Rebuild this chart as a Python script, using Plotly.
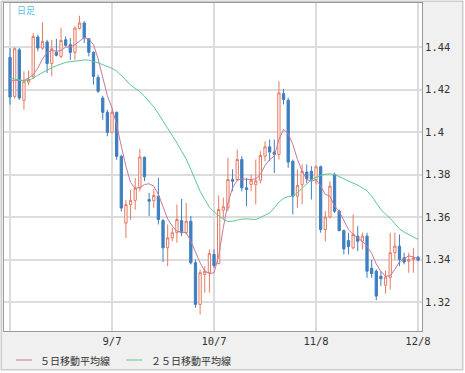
import plotly.graph_objects as go

# ---- data ----
opens = [1.4351, 1.4168, 1.4387, 1.4149, 1.4235, 1.4262, 1.4447, 1.4395, 1.4424, 1.4322,
         1.4375, 1.4356, 1.4434, 1.4411, 1.4375, 1.4487, 1.4513, 1.4439, 1.4375, 1.4257,
         1.4160, 1.4093, 1.3999, 1.4093, 1.3886, 1.3572, 1.3659, 1.3679, 1.3737, 1.3882,
         1.3683, 1.3678, 1.3699, 1.3584, 1.3456, 1.3503, 1.3527, 1.3584, 1.3527, 1.3581,
         1.3386, 1.3190, 1.3331, 1.3339, 1.3425, 1.3382, 1.3633, 1.3644, 1.3777, 1.3777,
         1.3871, 1.3738, 1.3754, 1.3754, 1.3774, 1.3887, 1.3931, 1.3906, 1.3895, 1.4181,
         1.4150, 1.3863, 1.3699, 1.3754, 1.3812, 1.3816, 1.3777, 1.3837, 1.3542, 1.3601,
         1.3801, 1.3628, 1.3537, 1.3490, 1.3456, 1.3511, 1.3487, 1.3511, 1.3360, 1.3346,
         1.3322, 1.3280, 1.3317, 1.3433, 1.3464, 1.3409, 1.3393, 1.3401, 1.3412]
highs = [1.4395, 1.4398, 1.4395, 1.4286, 1.4290, 1.4465, 1.4458, 1.4516, 1.4434, 1.4434,
         1.4438, 1.4489, 1.4450, 1.4442, 1.4497, 1.4547, 1.4521, 1.4442, 1.4380, 1.4270,
         1.4171, 1.4105, 1.4105, 1.4097, 1.3894, 1.3682, 1.3729, 1.3784, 1.3920, 1.3885,
         1.3714, 1.3733, 1.3785, 1.3592, 1.3566, 1.3550, 1.3660, 1.3686, 1.3667, 1.3605,
         1.3401, 1.3354, 1.3370, 1.3448, 1.3448, 1.3702, 1.3691, 1.3879, 1.3825, 1.3918,
         1.3887, 1.3785, 1.3800, 1.3871, 1.3910, 1.3957, 1.3965, 1.3965, 1.4239, 1.4203,
         1.4161, 1.3871, 1.3824, 1.3848, 1.3848, 1.3840, 1.3843, 1.3843, 1.3628, 1.3769,
         1.3809, 1.3636, 1.3542, 1.3527, 1.3613, 1.3558, 1.3527, 1.3527, 1.3400, 1.3355,
         1.3346, 1.3350, 1.3527, 1.3527, 1.3519, 1.3433, 1.3433, 1.3456, 1.3417]
lows = [1.4129, 1.4158, 1.4152, 1.4105, 1.4220, 1.4250, 1.4380, 1.4387, 1.4278, 1.4262,
        1.4356, 1.4348, 1.4403, 1.4340, 1.4340, 1.4482, 1.4419, 1.4356, 1.4223, 1.4184,
        1.4058, 1.3980, 1.3996, 1.3870, 1.3627, 1.3502, 1.3588, 1.3635, 1.3721, 1.3770,
        1.3605, 1.3644, 1.3566, 1.3389, 1.3370, 1.3487, 1.3480, 1.3511, 1.3519, 1.3378,
        1.3174, 1.3143, 1.3245, 1.3245, 1.3362, 1.3378, 1.3592, 1.3628, 1.3722, 1.3769,
        1.3722, 1.3652, 1.3722, 1.3660, 1.3759, 1.3863, 1.3863, 1.3808, 1.3871, 1.4130,
        1.3832, 1.3613, 1.3644, 1.3660, 1.3761, 1.3683, 1.3754, 1.3527, 1.3486, 1.3594,
        1.3620, 1.3534, 1.3425, 1.3425, 1.3448, 1.3440, 1.3448, 1.3315, 1.3315, 1.3210,
        1.3276, 1.3240, 1.3260, 1.3401, 1.3370, 1.3378, 1.3339, 1.3339, 1.3393]
closes = [1.4165, 1.4392, 1.4160, 1.4239, 1.4247, 1.4450, 1.4395, 1.4427, 1.4322, 1.4392,
          1.4361, 1.4431, 1.4408, 1.4375, 1.4489, 1.4513, 1.4442, 1.4375, 1.4262, 1.4192,
          1.4093, 1.3999, 1.4093, 1.3886, 1.3643, 1.3659, 1.3679, 1.3737, 1.3883, 1.3790,
          1.3675, 1.3702, 1.3589, 1.3456, 1.3503, 1.3527, 1.3589, 1.3527, 1.3581, 1.3386,
          1.3190, 1.3339, 1.3346, 1.3429, 1.3373, 1.3636, 1.3649, 1.3777, 1.3769, 1.3871,
          1.3738, 1.3730, 1.3774, 1.3771, 1.3890, 1.3931, 1.3906, 1.3895, 1.4184, 1.4153,
          1.3859, 1.3699, 1.3749, 1.3816, 1.3780, 1.3777, 1.3837, 1.3542, 1.3601, 1.3746,
          1.3628, 1.3537, 1.3451, 1.3462, 1.3519, 1.3487, 1.3511, 1.3346, 1.3335, 1.3229,
          1.3311, 1.3319, 1.3433, 1.3464, 1.3401, 1.3389, 1.3401, 1.3409, 1.3398]
ma5 = [1.4239, 1.4243, 1.4243, 1.4243, 1.4254, 1.4270, 1.4301, 1.4344, 1.4375, 1.4384,
       1.4380, 1.4384, 1.4400, 1.4400, 1.4411, 1.4427, 1.4445, 1.4438, 1.4411, 1.4344,
       1.4254, 1.4171, 1.4113, 1.4035, 1.3933, 1.3839, 1.3764, 1.3735, 1.3740, 1.3754,
       1.3757, 1.3746, 1.3707, 1.3652, 1.3592, 1.3558, 1.3534, 1.3530, 1.3527, 1.3487,
       1.3433, 1.3386, 1.3346, 1.3335, 1.3339, 1.3417, 1.3550, 1.3668, 1.3738, 1.3774,
       1.3780, 1.3777, 1.3777, 1.3780, 1.3801, 1.3843, 1.3871, 1.3887, 1.3965, 1.4012,
       1.3993, 1.3942, 1.3871, 1.3816, 1.3777, 1.3769, 1.3777, 1.3746, 1.3707, 1.3699,
       1.3652, 1.3628, 1.3581, 1.3542, 1.3519, 1.3503, 1.3487, 1.3464, 1.3430, 1.3380,
       1.3345, 1.3322, 1.3325, 1.3355, 1.3390, 1.3405, 1.3418, 1.3414, 1.3403]
ma25 = [1.4253, 1.4250, 1.4245, 1.4242, 1.4245, 1.4253, 1.4268, 1.4281, 1.4292, 1.4303,
        1.4312, 1.4320, 1.4328, 1.4331, 1.4334, 1.4337, 1.4339, 1.4339, 1.4334, 1.4326,
        1.4317, 1.4308, 1.4300, 1.4287, 1.4268, 1.4245, 1.4221, 1.4206, 1.4190, 1.4169,
        1.4145, 1.4119, 1.4087, 1.4053, 1.4020, 1.3985, 1.3949, 1.3910, 1.3874, 1.3824,
        1.3774, 1.3722, 1.3683, 1.3647, 1.3625, 1.3605, 1.3589, 1.3580, 1.3581, 1.3586,
        1.3591, 1.3592, 1.3592, 1.3589, 1.3599, 1.3608, 1.3620, 1.3644, 1.3671, 1.3689,
        1.3697, 1.3700, 1.3714, 1.3736, 1.3758, 1.3777, 1.3788, 1.3796, 1.3802, 1.3804,
        1.3801, 1.3791, 1.3780, 1.3769, 1.3760, 1.3751, 1.3738, 1.3724, 1.3699, 1.3668,
        1.3636, 1.3614, 1.3595, 1.3570, 1.3545, 1.3530, 1.3517, 1.3508, 1.3495]
x_tick_pos = [0, 22, 44, 66, 88]
x_tick_labels = ["", "9/7", "10/7", "11/8", "12/8"]
y_tick_vals = [1.32, 1.34, 1.36, 1.38, 1.40, 1.42, 1.44]
y_tick_labels = ["1.32", "1.34", "1.36", "1.38", "1.4", "1.42", "1.44"]
legend_names = ["５日移動平均線", "２５日移動平均線"]

UP = "#e57a62"
DOWN = "#3d7fbf"
MA5C = "#c8789a"
MA25C = "#5cc98e"

idx = list(range(len(closes)))

fig = go.Figure()
fig.add_trace(go.Candlestick(
    x=idx, open=opens, high=highs, low=lows, close=closes,
    increasing=dict(line=dict(color=UP, width=1), fillcolor="#ffffff"),
    decreasing=dict(line=dict(color=DOWN, width=1), fillcolor=DOWN),
    whiskerwidth=0, showlegend=False, hoverinfo="skip"))
fig.add_trace(go.Scatter(x=idx, y=ma5, mode="lines", line=dict(color=MA5C, width=1),
                         name=legend_names[0], showlegend=False, hoverinfo="skip"))
fig.add_trace(go.Scatter(x=idx, y=ma25, mode="lines", line=dict(color=MA25C, width=1),
                         name=legend_names[1], showlegend=False, hoverinfo="skip"))

W, H = 465, 373
L, R, T, B = 4, 422, 3, 331
pw, ph = R - L, B - T


def px(x):
    return (x - L) / pw


def py(y):
    return (B - y) / ph


tick_font = dict(family="DejaVu Sans Mono", size=10.5, color="#333333")
fig.update_layout(
    width=W, height=H,
    margin=dict(l=L, r=W - R, t=T, b=H - B, pad=0),
    paper_bgcolor="#f0f0f0", plot_bgcolor="#ffffff",
    showlegend=False,
    xaxis=dict(range=[-1.3, 88.86], tickmode="array", tickvals=x_tick_pos, ticktext=x_tick_labels,
               showgrid=True, gridcolor="#dcdcdc", gridwidth=1.5, zeroline=False,
               showline=True, linecolor="#9a9a9a", linewidth=1, mirror=True,
               ticks="", tickfont=tick_font, rangeslider=dict(visible=False), fixedrange=True,
               automargin=False),
    yaxis=dict(range=[1.3065, 1.4607], side="right", tickmode="array", tickvals=y_tick_vals,
               ticktext=y_tick_labels, showgrid=True, gridcolor="#dcdcdc", gridwidth=1.5,
               zeroline=False, showline=True, linecolor="#9a9a9a", linewidth=1, mirror=True,
               ticks="", tickfont=tick_font, fixedrange=True, automargin=False),
)

shapes = []
# outer frame
shapes.append(dict(type="rect", xref="paper", yref="paper", x0=px(1), x1=px(463), y0=py(370), y1=py(1),
                   line=dict(color="#a8a8a8", width=1), fillcolor="rgba(0,0,0,0)", layer="above"))
# white edges outside the frame
for (x0, x1, y0, y1) in [(0, 0.5, 0, H), (463.5, W, 0, H), (0, W, 370.5, H), (0, W, 0, 0.5)]:
    shapes.append(dict(type="rect", xref="paper", yref="paper", x0=px(x0), x1=px(x1), y0=py(y1), y1=py(y0),
                       line=dict(width=0), fillcolor="#ffffff", layer="above"))
# legend line samples
shapes.append(dict(type="line", xref="paper", yref="paper", x0=px(16), x1=px(32), y0=py(360), y1=py(360),
                   line=dict(color=MA5C, width=1)))
shapes.append(dict(type="line", xref="paper", yref="paper", x0=px(126), x1=px(142), y0=py(360), y1=py(360),
                   line=dict(color=MA25C, width=1)))
fig.update_layout(shapes=shapes)

jp = "Noto Sans CJK JP"
fig.add_annotation(xref="paper", yref="paper", x=px(38), y=py(360), xanchor="left", yanchor="middle",
                   text=legend_names[0], showarrow=False, font=dict(family=jp, size=10, color="#333333"))
fig.add_annotation(xref="paper", yref="paper", x=px(149), y=py(360), xanchor="left", yanchor="middle",
                   text=legend_names[1], showarrow=False, font=dict(family=jp, size=10, color="#333333"))
fig.add_annotation(xref="paper", yref="paper", x=px(15), y=py(10), xanchor="left", yanchor="middle",
                   text="日足", showarrow=False, font=dict(family=jp, size=9, color="#5bc0ea"))

fig.write_html("out.html", config=dict(displayModeBar=False),
               post_script="document.body.style.margin='0';document.body.style.padding='0';")
